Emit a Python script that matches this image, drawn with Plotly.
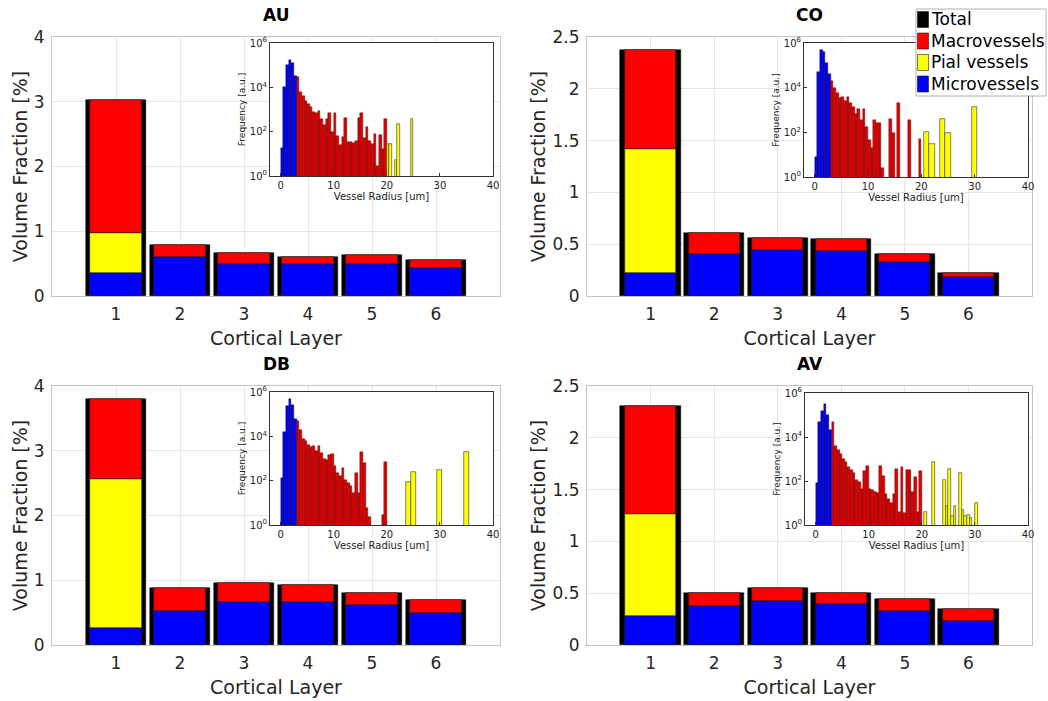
import numpy as np
import plotly.graph_objects as go

W, H = 1048, 701

# ---------------- data ----------------
panels = ["AU", "CO", "DB", "AV"]
layers = [1, 2, 3, 4, 5, 6]
series_names = ["Total", "Macrovessels", "Pial vessels", "Microvessels"]
series_colors = ["#000000", "#ff0000", "#ffff00", "#0000ff"]

total = {
    "AU": [3.02, 0.79, 0.67, 0.61, 0.63, 0.56],
    "CO": [2.37, 0.605, 0.56, 0.55, 0.41, 0.225],
    "DB": [3.80, 0.875, 0.96, 0.92, 0.80, 0.70],
    "AV": [2.31, 0.50, 0.55, 0.50, 0.44, 0.35],
}
micro = {
    "AU": [0.35, 0.61, 0.50, 0.49, 0.49, 0.44],
    "CO": [0.22, 0.41, 0.44, 0.43, 0.33, 0.186],
    "DB": [0.27, 0.53, 0.66, 0.66, 0.62, 0.50],
    "AV": [0.28, 0.376, 0.42, 0.40, 0.33, 0.23],
}
pial = {
    "AU": [0.63, 0, 0, 0, 0, 0],
    "CO": [1.20, 0, 0, 0, 0, 0],
    "DB": [2.30, 0, 0, 0, 0, 0],
    "AV": [0.98, 0, 0, 0, 0, 0],
}
macro = {
    "AU": [2.04, 0.18, 0.17, 0.12, 0.14, 0.12],
    "CO": [0.95, 0.195, 0.12, 0.12, 0.08, 0.04],
    "DB": [1.23, 0.345, 0.30, 0.26, 0.18, 0.20],
    "AV": [1.05, 0.124, 0.13, 0.10, 0.11, 0.12],
}
y_max = {"AU": 4, "CO": 2.5, "DB": 4, "AV": 2.5}
y_dtick = {"AU": 1, "CO": 0.5, "DB": 1, "AV": 0.5}

# inset histograms: radius bin centres [um] and log10(frequency)
micro_r = [0.25, 0.75, 1.25, 1.75, 2.25, 2.75]
macro_r = [3.25, 3.75, 4.25, 4.75, 5.25, 5.75, 6.25, 6.75, 7.25, 7.75, 8.25, 8.75,
           9.25, 9.75, 10.25, 10.75, 11.25, 11.75, 12.25, 12.75, 13.25, 13.75, 14.25,
           14.75, 15.25, 15.75, 16.25, 16.75, 17.25, 17.75, 18.25, 18.75, 19.25, 19.75]
hist_micro = {
    "AU": [1.25, 4.0, 5.0, 5.25, 5.1, 4.5],
    "CO": [0.9, 4.7, 5.7, 5.6, 5.1, 4.6],
    "DB": [2.1, 4.2, 5.35, 5.7, 5.4, 4.8],
    "AV": [1.9, 4.7, 5.2, 5.5, 5.0, 4.3],
}
hist_macro = {
    "AU": [4.45, 3.8, 3.6, 3.4, 3.25, 3.1, 2.9, 2.85, 2.95, 2.55, 2.3, 2.55,
           2.85, 2.0, 2.85, 1.8, 1.4, 1.75, 2.6, 1.55, 1.55, 1.5, 1.6,
           2.6, 2.85, 1.7, 2.2, 1.6, 1.45, 1.9, 0.45, 1.85, 1.2, 2.55],
    "CO": [4.3, 4.0, 3.75, 3.55, 3.6, 3.4, 3.6, 3.3, 3.15, 2.8, 3.05, 2.55,
           3.05, 2.25, 1.65, 1.3, 2.55, 2.4, 2.4, 0.4, None, None, 2.6,
           1.95, None, 3.3, None, None, None, 2.55, None, None, None, 1.7],
    "DB": [4.7, 4.3, 3.9, 3.8, 3.6, 3.5, 3.55, 3.35, 3.55, 3.25, 3.0, 2.95,
           3.15, 3.2, 2.65, 2.35, 2.2, 2.55, 2.05, 1.9, 1.75, 1.45, 2.35,
           1.45, 3.3, 2.8, 0.75, 0.35, None, None, None, None, 0.45, 2.85],
    "AV": [4.7, 3.6, 3.4, 3.25, 3.0, 2.85, 2.65, 2.5, 2.35, 2.05, 1.95, 1.65,
           2.45, 2.7, 1.65, 1.6, 1.5, 1.45, 2.7, 2.25, 1.4, 1.2, 1.0,
           1.4, 2.55, 0.6, 2.65, 0.55, 2.5, 2.5, 1.5, 2.2, 0.6, 2.45],
}
pial_r = {
    "AU": [20.25, 20.75, 21.75, 22.25, 24.75],
    "CO": [21.0, 22.0, 24.0, 25.0, 30.0],
    "DB": [24.0, 25.0, 30.0, 35.0],
    "AV": [20.75, 22.25, 24.25, 24.75, 25.25, 25.75, 26.25, 27.25, 27.75, 28.25,
           28.75, 29.25, 30.25],
}
pial_w = {"AU": 0.5, "CO": 0.95, "DB": 0.95, "AV": 0.5}
hist_pial = {
    "AU": [1.45, 1.45, 0.7, 2.35, 2.55],
    "CO": [2.0, 1.5, 2.6, 1.95, 3.15],
    "DB": [1.95, 2.4, 2.5, 3.3],
    "AV": [0.6, 2.85, 2.05, 0.85, 2.55, 0.4, 0.85, 2.35, 0.7, 0.4, 0.45, 0.3, 1.0],
}
hist_x_range = [-2, 40]
hist_y_range = [1, 1e6]

# ---------------- layout geometry (pixels) ----------------
main_box = {  # left, right, top, bottom
    "AU": (52, 500, 37, 296),
    "CO": (587, 1032, 37, 296),
    "DB": (52, 500, 386, 645),
    "AV": (587, 1032, 386, 645),
}
inset_box = {
    "AU": (270, 493, 43, 176),
    "CO": (804, 1028, 43, 177),
    "DB": (270, 493, 392, 525),
    "AV": (805, 1028, 393, 525),
}

def px(sx):
    return sx / W

def py(sy):
    return 1 - sy / H

def xd(l, r):
    return [px(l), px(r)]

def yd(t, b):
    return [py(b), py(t)]

FONT = "DejaVu Sans"
fig = go.Figure()
layout = dict()
shapes = []
annotations = []

def tolog(vals):
    return [None if v is None else 10 ** v for v in vals]

for i, p in enumerate(panels):
    n = i + 1
    xa, ya = ("x" if n == 1 else f"x{n}"), ("y" if n == 1 else f"y{n}")
    m = np.array(micro[p]); pi = np.array(pial[p]); ma = np.array(macro[p])
    fig.add_trace(go.Bar(x=layers, y=total[p], width=0.95, name=series_names[0],
                         marker=dict(color=series_colors[0], line=dict(color="#000", width=0.5)),
                         xaxis=xa, yaxis=ya, showlegend=False))
    fig.add_trace(go.Bar(x=layers, y=m, base=0, width=0.8, name=series_names[3],
                         marker=dict(color=series_colors[3], line=dict(color="#222", width=0.6)),
                         xaxis=xa, yaxis=ya, showlegend=False))
    fig.add_trace(go.Bar(x=layers, y=pi, base=m, width=0.8, name=series_names[2],
                         marker=dict(color=series_colors[2], line=dict(color="#222", width=0.6)),
                         xaxis=xa, yaxis=ya, showlegend=False))
    fig.add_trace(go.Bar(x=layers, y=ma, base=m + pi, width=0.8, name=series_names[1],
                         marker=dict(color=series_colors[1], line=dict(color="#222", width=0.6)),
                         xaxis=xa, yaxis=ya, showlegend=False))
    l, r, t, b = main_box[p]
    layout["xaxis" if n == 1 else f"xaxis{n}"] = dict(
        domain=xd(l, r), anchor=ya, range=[0, 7], tickvals=layers, automargin=False,
        showgrid=True, gridcolor="#e6e6e6", showline=True, linecolor="#c4c4c4", mirror=True,
        zeroline=False, ticks="", ticklabelstandoff=3,
        tickfont=dict(size=17, color="#262626", family=FONT),
        title=dict(text="Cortical Layer", font=dict(size=19, color="#262626", family=FONT), standoff=8),
    )
    layout["yaxis" if n == 1 else f"yaxis{n}"] = dict(
        domain=yd(t, b), anchor=xa, range=[0, y_max[p]], dtick=y_dtick[p], automargin=False,
        showgrid=True, gridcolor="#e6e6e6", showline=True, linecolor="#c4c4c4", mirror=True,
        zeroline=False, ticks="", ticklabelstandoff=3,
        tickfont=dict(size=17, color="#262626", family=FONT),
        title=dict(text="Volume Fraction [%]", font=dict(size=19, color="#262626", family=FONT), standoff=1),
    )
    annotations.append(dict(text=f"<b>{p}</b>", x=px((l + r) / 2), y=py(t - 22),
                            xref="paper", yref="paper", xanchor="center", yanchor="middle",
                            showarrow=False, font=dict(size=17, color="#000", family=FONT)))

    # inset
    k = n + 4
    xi, yi = f"x{k}", f"y{k}"
    fig.add_trace(go.Bar(x=micro_r, y=tolog(hist_micro[p]), width=0.5, name=series_names[3],
                         marker=dict(color="#0000ff", line=dict(color="#000", width=0.4)),
                         xaxis=xi, yaxis=yi, showlegend=False))
    fig.add_trace(go.Bar(x=macro_r, y=tolog(hist_macro[p]), width=0.5, name=series_names[1],
                         marker=dict(color="#e60000", line=dict(color="#300", width=0.4)),
                         xaxis=xi, yaxis=yi, showlegend=False))
    fig.add_trace(go.Bar(x=pial_r[p], y=tolog(hist_pial[p]), width=pial_w[p], name=series_names[2],
                         marker=dict(color="#ffff00", line=dict(color="#333", width=0.6)),
                         xaxis=xi, yaxis=yi, showlegend=False))
    l, r, t, b = inset_box[p]
    layout[f"xaxis{k}"] = dict(
        domain=xd(l, r), anchor=yi, range=hist_x_range, tickvals=[0, 10, 20, 30, 40],
        automargin=False,
        showgrid=True, gridcolor="#bdbdbd", showline=True, linecolor="#333", mirror=True,
        zeroline=False, ticks="inside", ticklen=3, tickcolor="#333",
        tickfont=dict(size=10, color="#222", family=FONT),
        title=dict(text="Vessel Radius [um]", font=dict(size=10, color="#222", family=FONT), standoff=2),
    )
    layout[f"yaxis{k}"] = dict(
        domain=yd(t, b), anchor=xi, type="log", range=[0, 6], automargin=False,
        tickvals=[1, 1e2, 1e4, 1e6],
        ticktext=["10<sup>0</sup>", "10<sup>2</sup>", "10<sup>4</sup>", "10<sup>6</sup>"],
        showgrid=True, gridcolor="#bdbdbd", showline=True, linecolor="#333", mirror=True,
        zeroline=False, ticks="inside", ticklen=3, tickcolor="#333",
        tickfont=dict(size=10, color="#222", family=FONT),
        title=dict(text="Frequency [a.u.]", font=dict(size=9, color="#222", family=FONT), standoff=2),
    )
    shapes.append(dict(type="rect", xref=xi, yref=yi,
                       x0=hist_x_range[0], x1=hist_x_range[1],
                       y0=hist_y_range[0], y1=hist_y_range[1],
                       fillcolor="white", line=dict(width=0), layer="between"))

# ---------------- legend (drawn manually) ----------------
lg_l, lg_r, lg_t, lg_b = 916, 1046, 9, 96
shapes.append(dict(type="rect", xref="paper", yref="paper",
                   x0=px(lg_l), x1=px(lg_r), y0=py(lg_b), y1=py(lg_t),
                   fillcolor="white", line=dict(color="#b0b0b0", width=1), layer="above"))
for j, (nm, col) in enumerate(zip(series_names, series_colors)):
    cy = 19.5 + j * 21.5
    shapes.append(dict(type="rect", xref="paper", yref="paper",
                       x0=px(917.5), x1=px(928.5), y0=py(cy + 8), y1=py(cy - 8),
                       fillcolor=col, line=dict(color="#000", width=0.5), layer="above"))
    annotations.append(dict(text=nm, x=px(929), y=py(cy), xref="paper", yref="paper",
                            xanchor="left", yanchor="middle", showarrow=False,
                            font=dict(size=17, color="#000", family=FONT)))

fig.update_layout(
    width=W, height=H, margin=dict(l=0, r=0, t=0, b=0, pad=0, autoexpand=False),
    paper_bgcolor="white", plot_bgcolor="white",
    barmode="overlay", bargap=0,
    font=dict(family=FONT, color="#262626"),
    shapes=shapes, annotations=annotations, showlegend=False,
    **layout,
)

# remove the browser's default 8 px page margin so the figure sits at the window origin
fig.write_html("out.html", config={"displayModeBar": False},
               post_script="document.body.style.margin='0px';")
